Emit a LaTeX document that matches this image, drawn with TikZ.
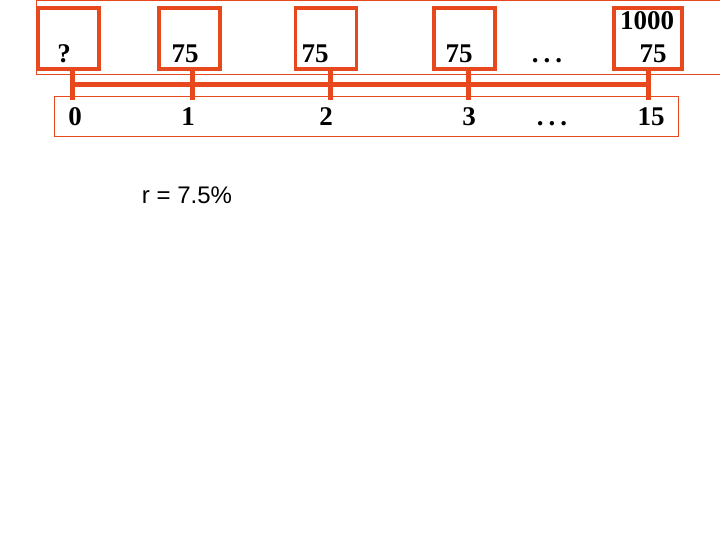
\documentclass[tikz,border=0pt]{standalone}
\usepackage{fontspec}
\setmainfont{Liberation Serif}
\setsansfont{Liberation Sans}
\definecolor{flowred}{RGB}{232,72,30}
\begin{document}
\begin{tikzpicture}[x=1pt, y=-1pt,
  cashbox/.style={draw=flowred, line width=3.5pt, minimum width=61pt, minimum height=61pt, inner sep=0pt},
  amount/.style={anchor=base, inner sep=0pt, font=\fontsize{27}{30}\selectfont\bfseries},
  tick/.style={flowred, line width=5pt},
  frame/.style={draw=flowred, line width=1pt}]
\useasboundingbox[fill=white] (0,0) rectangle (720,540);
% Frames
\draw[frame] (36,0.5) rectangle (726,75);
\draw[frame] (54,97) rectangle (678,137);
% Cash flow boxes
\node[cashbox] (box0) at (68.5,38.5) {};
\node[cashbox] (box1) at (189.5,38.5) {};
\node[cashbox] (box2) at (326,38.5) {};
\node[cashbox] (box3) at (464.5,38.5) {};
\node[cashbox, minimum width=68pt] (box15) at (648,38.5) {};
% Amounts
\node[amount] (c0) at (64,63) {?};
\node[amount] (c1) at (185,63) {75};
\node[amount] (c2) at (315,63) {75};
\node[amount] (c3) at (459,63) {75};
\node[amount] (cdots) at (547,63) {.\hspace{5pt}.\hspace{5pt}.};
\node[amount] (face) at (647,30) {1000};
\node[amount] (c15) at (653,63) {75};
% Time line
\coordinate (t0) at (72,100);
\coordinate (t1) at (192,100);
\coordinate (t2) at (330,100);
\coordinate (t3) at (468,100);
\coordinate (t15) at (648,100);
\foreach \t/\b in {t0/box0, t1/box1, t2/box2, t3/box3, t15/box15}
  \draw[tick] (\t) -- (\t |- \b.south);
\draw[tick] (t0 |- 0,85) -- (t15 |- 0,85);
% Periods
\node[amount] (p0) at (75,126) {0};
\node[amount] (p1) at (188,126) {1};
\node[amount] (p2) at (326,126) {2};
\node[amount] (p3) at (469,126) {3};
\node[amount] (pdots) at (552,126) {.\hspace{5pt}.\hspace{5pt}.};
\node[amount] (p15) at (651,126) {15};
% Rate
\node[anchor=base, inner sep=0pt, font=\sffamily\fontsize{24}{28}\selectfont] (rate) at (187,204) {r = 7.5\%};
\end{tikzpicture}
\end{document}
